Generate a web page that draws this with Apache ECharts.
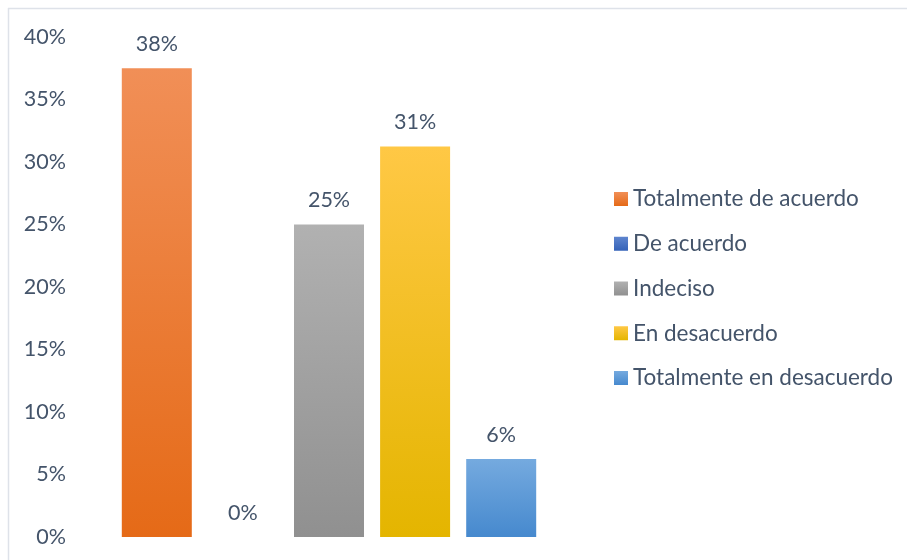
<!DOCTYPE html>
<html>
<head>
<meta charset="utf-8">
<script src="https://cdn.jsdelivr.net/npm/echarts@6/dist/echarts.min.js"></script>
<style>html,body{margin:0;padding:0;background:#fff;}#c{width:907px;height:560px;}</style>
</head>
<body>
<div id="c"></div>
<script>
const categories = [''];
const seriesNames = ['Totalmente de acuerdo', 'De acuerdo', 'Indeciso', 'En desacuerdo', 'Totalmente en desacuerdo'];
const seriesValues = [37.5, 0, 25, 31.25, 6.25];
const yTicks = [0, 5, 10, 15, 20, 25, 30, 35, 40];
const gradients = [
  ['#F18F57', '#E56A17'],
  ['#5E85CE', '#3462B8'],
  ['#B1B1B1', '#909090'],
  ['#FFC845', '#E4B500'],
  ['#75AADF', '#4689CE']
];
const FONT = 'Lato';
const TXT = '#44546A';
const chart = echarts.init(document.getElementById('c'));
const series = seriesNames.map((name, i) => ({
  name: name,
  type: 'bar',
  data: [seriesValues[i]],
  barWidth: 70,
  barGap: '23%',
  itemStyle: {
    color: new echarts.graphic.LinearGradient(0, 0, 0, 1, [
      { offset: 0, color: gradients[i][0] },
      { offset: 1, color: gradients[i][1] }
    ])
  },
  label: {
    show: true,
    position: 'top',
    distance: 13,
    fontFamily: FONT,
    fontSize: 21.5,
    color: TXT,
    formatter: p => Math.round(p.value) + '%'
  }
}));
chart.setOption({
  animation: false,
  textStyle: { fontFamily: FONT },
  grid: { left: 80, right: 329, top: 37, bottom: 23 },
  xAxis: {
    type: 'category',
    data: categories,
    axisLine: { show: false },
    axisTick: { show: false },
    axisLabel: { show: false }
  },
  yAxis: {
    type: 'value',
    min: yTicks[0],
    max: yTicks[yTicks.length - 1],
    interval: 5,
    splitLine: { show: false },
    axisLine: { show: false },
    axisTick: { show: false },
    axisLabel: {
      margin: 14,
      fontFamily: FONT,
      fontSize: 21.5,
      color: TXT,
      formatter: v => v + '%'
    }
  },
  legend: {
    orient: 'vertical',
    left: 609,
    top: 182,
    itemWidth: 14,
    itemHeight: 14,
    itemGap: 20.75,
    icon: 'rect',
    textStyle: { fontFamily: FONT, fontSize: 22.5, color: TXT, lineHeight: 24 },
    data: seriesNames
  },
  graphic: [
    { type: 'line', shape: { x1: 8, y1: 8.5, x2: 907, y2: 8.5 }, style: { stroke: '#DEE2E9', lineWidth: 1.5 } },
    { type: 'line', shape: { x1: 8.5, y1: 8, x2: 8.5, y2: 560 }, style: { stroke: '#DEE2E9', lineWidth: 1.5 } }
  ],
  series: series
});
</script>
</body>
</html>
